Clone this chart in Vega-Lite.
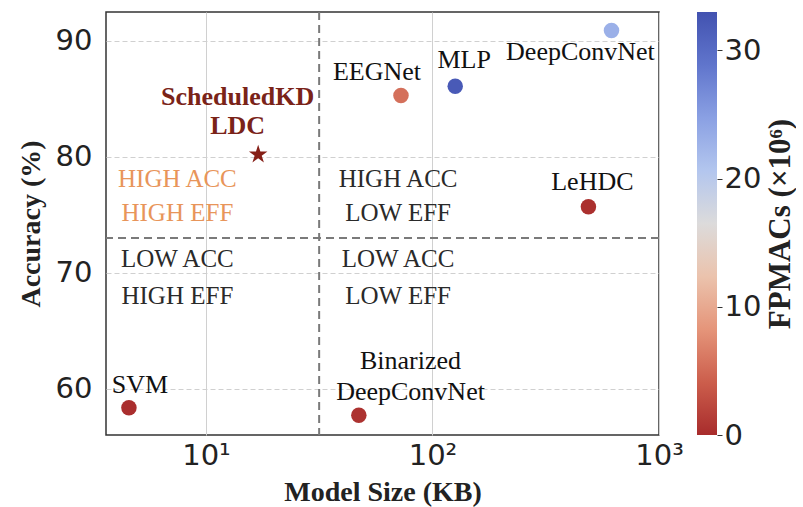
{
  "$schema": "https://vega.github.io/schema/vega-lite/v6.json",
  "background": "white",
  "padding": {"left": 16, "top": 10, "right": 0, "bottom": 0},
  "spacing": 12,
  "datasets": {
    "models": [
      {"model": "ScheduledKD LDC", "size": 17, "acc": 80.2, "fpmacs": 0, "marker": "star"},
      {"model": "EEGNet", "size": 72.6, "acc": 85.3, "fpmacs": 5.5, "marker": "circle"},
      {"model": "MLP", "size": 126, "acc": 86.1, "fpmacs": 32, "marker": "circle"},
      {"model": "DeepConvNet", "size": 617, "acc": 90.9, "fpmacs": 23, "marker": "circle"},
      {"model": "LeHDC", "size": 488, "acc": 75.7, "fpmacs": 0.3, "marker": "circle"},
      {"model": "SVM", "size": 4.57, "acc": 58.35, "fpmacs": 0.2, "marker": "circle"},
      {"model": "Binarized DeepConvNet", "size": 47.3, "acc": 57.7, "fpmacs": 0.5, "marker": "circle"}
    ],
    "labels": [
      {"text": "ScheduledKD", "size": 13.8, "acc": 85.16, "style": "ours"},
      {"text": "LDC", "size": 13.8, "acc": 82.65, "style": "ours"},
      {"text": "EEGNet", "size": 56.9, "acc": 87.3, "style": "model"},
      {"text": "MLP", "size": 138, "acc": 88.36, "style": "model"},
      {"text": "DeepConvNet", "size": 450, "acc": 89.05, "style": "model"},
      {"text": "LeHDC", "size": 508, "acc": 77.84, "style": "model"},
      {"text": "SVM", "size": 5.11, "acc": 60.35, "style": "model"},
      {"text": "Binarized", "size": 80, "acc": 62.42, "style": "model"},
      {"text": "DeepConvNet", "size": 80, "acc": 59.74, "style": "model"},
      {"text": "HIGH ACC", "size": 7.48, "acc": 78.1, "style": "best"},
      {"text": "HIGH EFF", "size": 7.48, "acc": 75.16, "style": "best"},
      {"text": "HIGH ACC", "size": 70.5, "acc": 78.1, "style": "quad"},
      {"text": "LOW EFF", "size": 70.5, "acc": 75.16, "style": "quad"},
      {"text": "LOW ACC", "size": 7.48, "acc": 71.2, "style": "quad"},
      {"text": "HIGH EFF", "size": 7.48, "acc": 68.0, "style": "quad"},
      {"text": "LOW ACC", "size": 70.5, "acc": 71.2, "style": "quad"},
      {"text": "LOW EFF", "size": 70.5, "acc": 68.0, "style": "quad"}
    ],
    "thresholds": [
      {"size": 31.6, "acc": 73}
    ]
  },
  "hconcat": [
    {
      "width": 553,
      "height": 423,
      "view": {"stroke": "#333333", "strokeWidth": 1.5},
      "layer": [
        {
          "data": {"name": "thresholds"},
          "mark": {"type": "rule", "color": "#7a7a7a", "strokeWidth": 2, "strokeDash": [8, 5]},
          "encoding": {
            "x": {
              "field": "size", "type": "quantitative",
              "scale": {"type": "log", "domain": [3.62, 1000], "nice": false},
              "axis": {
                "values": [10, 100, 1000],
                "labelExpr": "datum.value == 10 ? '10¹' : datum.value == 100 ? '10²' : '10³'",
                "title": "Model Size (KB)",
                "grid": true, "gridColor": "#d0d0d0", "gridWidth": 1,
                "domain": false, "ticks": false,
                "labelFont": "DejaVu Sans", "labelFontSize": 29, "labelColor": "#222222",
                "labelPadding": 6, "labelFlush": false,
                "titleFont": "Liberation Serif", "titleFontWeight": "bold", "titleFontSize": 28,
                "titleColor": "#222222", "titlePadding": 8
              }
            }
          }
        },
        {
          "data": {"name": "thresholds"},
          "mark": {"type": "rule", "color": "#7a7a7a", "strokeWidth": 2, "strokeDash": [8, 5]},
          "encoding": {
            "y": {
              "field": "acc", "type": "quantitative",
              "scale": {"domain": [56, 92.5], "nice": false, "zero": false},
              "axis": {
                "values": [60, 70, 80, 90],
                "title": "Accuracy (%)",
                "grid": true, "gridColor": "#d0d0d0", "gridWidth": 1, "gridDash": [5, 3],
                "domain": false, "ticks": false,
                "labelFont": "DejaVu Sans", "labelFontSize": 29, "labelColor": "#222222",
                "labelPadding": 14,
                "titleFont": "Liberation Serif", "titleFontWeight": "bold", "titleFontSize": 28,
                "titleColor": "#222222", "titlePadding": 10
              }
            }
          }
        },
        {
          "data": {"name": "models"},
          "transform": [{"filter": "datum.marker == 'circle'"}],
          "mark": {"type": "circle", "size": 240, "opacity": 1},
          "encoding": {
            "x": {"field": "size", "type": "quantitative"},
            "y": {"field": "acc", "type": "quantitative"},
            "color": {
              "field": "fpmacs", "type": "quantitative",
              "scale": {
                "domain": [0, 4.125, 8.25, 12.375, 16.5, 20.625, 24.75, 28.875, 33],
                "range": ["#a82c2c", "#cc5e4c", "#e5957a", "#ebc3ad", "#dcdbdb", "#b3c6ee", "#8aa0e3", "#6075cc", "#4252b0"],
                "interpolate": "rgb"
              },
              "legend": null
            }
          }
        },
        {
          "data": {"name": "models"},
          "transform": [{"filter": "datum.marker == 'star'"}],
          "mark": {"type": "point", "shape": "M0,-1L0.2245,-0.309L0.951,-0.309L0.363,0.118L0.588,0.809L0,0.382L-0.588,0.809L-0.363,0.118L-0.951,-0.309L-0.2245,-0.309Z", "filled": true, "size": 380, "color": "#861f17", "opacity": 1},
          "encoding": {
            "x": {"field": "size", "type": "quantitative"},
            "y": {"field": "acc", "type": "quantitative"}
          }
        },
        {
          "data": {"name": "labels"},
          "transform": [{"filter": "datum.style == 'model'"}],
          "mark": {"type": "text", "font": "Liberation Serif", "fontSize": 26, "color": "#111111", "align": "center", "baseline": "middle"},
          "encoding": {
            "x": {"field": "size", "type": "quantitative"},
            "y": {"field": "acc", "type": "quantitative"},
            "text": {"field": "text"}
          }
        },
        {
          "data": {"name": "labels"},
          "transform": [{"filter": "datum.style == 'quad'"}],
          "mark": {"type": "text", "font": "Liberation Serif", "fontSize": 25, "color": "#2a2a2a", "align": "center", "baseline": "middle"},
          "encoding": {
            "x": {"field": "size", "type": "quantitative"},
            "y": {"field": "acc", "type": "quantitative"},
            "text": {"field": "text"}
          }
        },
        {
          "data": {"name": "labels"},
          "transform": [{"filter": "datum.style == 'best'"}],
          "mark": {"type": "text", "font": "Liberation Serif", "fontSize": 25, "color": "#e8955a", "align": "center", "baseline": "middle"},
          "encoding": {
            "x": {"field": "size", "type": "quantitative"},
            "y": {"field": "acc", "type": "quantitative"},
            "text": {"field": "text"}
          }
        },
        {
          "data": {"name": "labels"},
          "transform": [{"filter": "datum.style == 'ours'"}],
          "mark": {"type": "text", "font": "Liberation Serif", "fontSize": 26, "fontWeight": "bold", "color": "#7a2318", "align": "center", "baseline": "middle"},
          "encoding": {
            "x": {"field": "size", "type": "quantitative"},
            "y": {"field": "acc", "type": "quantitative"},
            "text": {"field": "text"}
          }
        }
      ]
    },
    {
      "width": 20,
      "height": 423,
      "view": {"stroke": null},
      "data": {"values": [{"lo": 0, "hi": 33}]},
      "mark": {
        "type": "rect",
        "color": {
          "gradient": "linear", "x1": 0, "y1": 1, "x2": 0, "y2": 0,
          "stops": [
            {"offset": 0, "color": "#a82c2c"},
            {"offset": 0.125, "color": "#cc5e4c"},
            {"offset": 0.25, "color": "#e5957a"},
            {"offset": 0.375, "color": "#ebc3ad"},
            {"offset": 0.5, "color": "#dcdbdb"},
            {"offset": 0.625, "color": "#b3c6ee"},
            {"offset": 0.75, "color": "#8aa0e3"},
            {"offset": 0.875, "color": "#6075cc"},
            {"offset": 1, "color": "#4252b0"}
          ]
        }
      },
      "encoding": {
        "y": {
          "field": "lo", "type": "quantitative",
          "scale": {"domain": [0, 33], "nice": false, "zero": false},
          "axis": {
            "orient": "right",
            "values": [0, 10, 20, 30],
            "title": "FPMACs (×10⁶)",
            "grid": false, "domain": false,
            "ticks": true, "tickSize": 5, "tickColor": "#333333", "tickWidth": 1,
            "labelFont": "DejaVu Sans", "labelFontSize": 29, "labelColor": "#222222", "labelPadding": 2,
            "titleFont": "Liberation Serif", "titleFontWeight": "bold", "titleFontSize": 31,
            "titleColor": "#222222", "titleAngle": 270, "titleBaseline": "top", "titlePadding": 5
          }
        },
        "y2": {"field": "hi"}
      }
    }
  ]
}
